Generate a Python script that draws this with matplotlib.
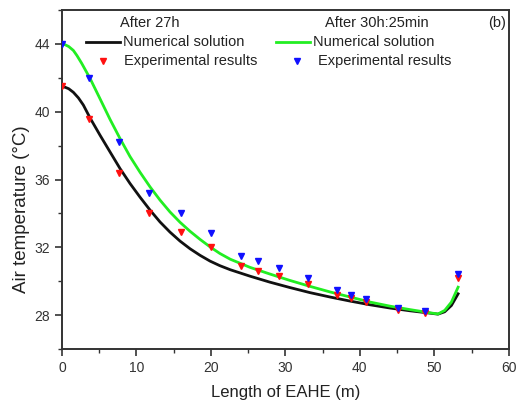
import matplotlib
matplotlib.use("Agg")
import matplotlib.pyplot as plt
from matplotlib.ticker import MultipleLocator
from matplotlib.lines import Line2D

plt.rcParams['font.family'] = ['Liberation Sans', 'DejaVu Sans']

# Numerical solution after 27h (black)
num27_x = [0.0, 0.4, 0.9, 1.52, 2.2, 2.86, 3.76, 5.1, 6.45, 7.79, 9.13, 10.48, 11.82, 13.16, 14.5,
           15.85, 17.19, 18.54, 19.88, 21.2, 22.6, 25.25, 27.9, 30.6, 33.3, 36.0, 38.7,
           41.4, 44.06, 46.7, 49.4, 50.5, 51.4, 52.3, 53.2]
num27_y = [41.47, 41.45, 41.36, 41.15, 40.82, 40.4, 39.64, 38.62, 37.63, 36.65, 35.77, 34.96, 34.2, 33.5, 32.9,
           32.37, 31.92, 31.53, 31.19, 30.92, 30.68, 30.3, 29.95, 29.63, 29.33, 29.07, 28.83,
           28.61, 28.42, 28.26, 28.12, 28.06, 28.2, 28.57, 29.26]

# Numerical solution after 30h:25min (green)
num30_x = [0.0, 0.4, 0.9, 1.52, 2.0, 2.64, 3.76, 5.1, 6.45, 7.79, 9.13, 10.48, 11.82, 13.16, 14.5,
           15.85, 17.19, 18.54, 19.88, 21.2, 22.6, 25.25, 27.9, 30.6, 33.3, 36.0, 38.7,
           41.4, 44.06, 46.7, 49.4, 50.5, 51.4, 52.3, 53.2]
num30_y = [43.98, 43.96, 43.85, 43.62, 43.32, 42.86, 41.97, 40.77, 39.55, 38.42, 37.36, 36.43, 35.57, 34.79, 34.09,
           33.48, 32.95, 32.47, 32.03, 31.64, 31.3, 30.82, 30.43, 30.05, 29.7, 29.37, 29.07,
           28.77, 28.53, 28.33, 28.14, 28.07, 28.28, 28.77, 29.65]

# Experimental results after 27h (red)
exp27_x = [0.0, 3.6, 7.6, 11.7, 16.0, 20.0, 24.1, 26.3, 29.1, 33.1, 36.9, 38.8, 40.8, 45.1, 48.8, 53.2]
exp27_y = [41.5, 39.6, 36.4, 34.0, 32.9, 32.0, 30.9, 30.6, 30.3, 29.85, 29.2, 29.0, 28.8, 28.3, 28.15, 30.2]

# Experimental results after 30h:25min (blue)
exp30_x = [0.0, 3.6, 7.6, 11.7, 16.0, 20.0, 24.1, 26.3, 29.1, 33.1, 36.9, 38.8, 40.8, 45.1, 48.8, 53.2]
exp30_y = [44.0, 42.0, 38.2, 35.2, 34.0, 32.85, 31.5, 31.2, 30.8, 30.2, 29.5, 29.2, 28.95, 28.4, 28.25, 30.45]

fig = plt.figure(figsize=(5.17, 4.04), dpi=100)
ax = fig.add_axes([0.12, 0.136, 0.864, 0.839])

ax.plot(num27_x, num27_y, color='#111111', lw=2.0, zorder=2, solid_joinstyle='round')
ax.plot(num30_x, num30_y, color='#22ee22', lw=2.0, zorder=3, solid_joinstyle='round')
ax.plot(exp27_x, exp27_y, linestyle='none', marker='v', color='#ff1010', ms=5, zorder=4)
ax.plot(exp30_x, exp30_y, linestyle='none', marker='v', color='#1010ff', ms=5, zorder=5)

ax.set_xlim(0, 60)
ax.set_ylim(26, 46)
ax.xaxis.set_major_locator(MultipleLocator(10))
ax.xaxis.set_minor_locator(MultipleLocator(5))
ax.yaxis.set_minor_locator(MultipleLocator(2))
ax.set_yticks([28, 32, 36, 40, 44])

spine_c = '#333333'
for s in ax.spines.values():
    s.set_color(spine_c)
    s.set_linewidth(1.4)
ax.tick_params(which='major', direction='out', length=5, width=1.2, color=spine_c,
               labelsize=10, labelcolor='#333333', top=False, right=False)
ax.tick_params(which='minor', direction='out', length=3, width=1.0, color=spine_c,
               top=False, right=False)

ax.set_xlabel('Length of EAHE (m)', fontsize=12, color='#222222', labelpad=7)
ax.set_ylabel('Air temperature (°C)', fontsize=13.5, color='#222222')
ax.yaxis.set_label_coords(-0.071, 0.413)

# Legend blocks placed in figure pixel coordinates
W, H = 517, 404
def fx(px):
    return px / W
def fy(py):
    return 1 - py / H

txt = dict(fontsize=10.5, color='#222222', va='center')
fig.text(fx(150), fy(23), 'After 27h', ha='center', **txt)
fig.add_artist(Line2D([fx(86), fx(120)], [fy(42), fy(42)], color='#111111', lw=2.0))
fig.text(fx(123), fy(42), 'Numerical solution', ha='left', **txt)
fig.add_artist(Line2D([fx(103)], [fy(61)], marker='v', color='#ff1010', ms=5, linestyle='none'))
fig.text(fx(124), fy(61), 'Experimental results', ha='left', **txt)

fig.text(fx(377), fy(23), 'After 30h:25min', ha='center', **txt)
fig.add_artist(Line2D([fx(276), fx(310)], [fy(42), fy(42)], color='#22ee22', lw=2.0))
fig.text(fx(313), fy(42), 'Numerical solution', ha='left', **txt)
fig.add_artist(Line2D([fx(297)], [fy(61)], marker='v', color='#1010ff', ms=5, linestyle='none'))
fig.text(fx(318), fy(61), 'Experimental results', ha='left', **txt)

fig.text(fx(497), fy(23), '(b)', ha='center', **txt)

fig.savefig('out.png', dpi=100)
